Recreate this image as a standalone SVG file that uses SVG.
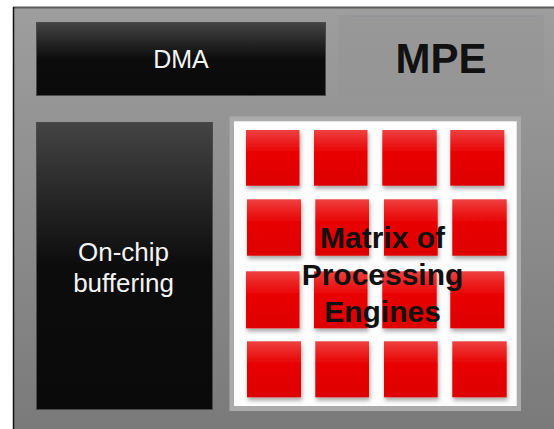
<svg xmlns="http://www.w3.org/2000/svg" width="554" height="429" viewBox="0 0 554 429">
  <defs>
    <linearGradient id="bg" x1="0" y1="0" x2="0" y2="1">
      <stop offset="0" stop-color="#9e9e9e"/>
      <stop offset="1" stop-color="#7a7a7a"/>
    </linearGradient>
    <linearGradient id="dark" x1="0" y1="0" x2="0" y2="1">
      <stop offset="0" stop-color="#444444"/>
      <stop offset="0.5" stop-color="#0c0c0c"/>
      <stop offset="1" stop-color="#0a0a0a"/>
    </linearGradient>
    <linearGradient id="red" x1="0" y1="0" x2="0" y2="1">
      <stop offset="0" stop-color="#ef4040"/>
      <stop offset="0.42" stop-color="#e80000"/>
      <stop offset="1" stop-color="#dd0000"/>
    </linearGradient>
    <filter id="shadow" x="-20%" y="-20%" width="140%" height="150%">
      <feDropShadow dx="1" dy="3" stdDeviation="2" flood-color="#000" flood-opacity="0.35"/>
    </filter>
    <style>
      .dark { fill: url(#dark); stroke: #4a4a4a; stroke-width: 1; }
      .pe { fill: url(#red); filter: url(#shadow); }
      .wt { font-family: "Liberation Sans", Arial, sans-serif; fill: #f4f4f4; text-anchor: middle; }
      .bt { font-family: "Liberation Sans", Arial, sans-serif; fill: #111111; font-weight: bold; text-anchor: middle; }
    </style>
  </defs>

  <!-- chip background -->
  <rect x="13" y="7" width="541" height="422" fill="url(#bg)"/>
  <line x1="13" y1="7.5" x2="554" y2="7.5" stroke="#5a5a5a" stroke-width="2"/>
  <line x1="13.5" y1="7" x2="13.5" y2="429" stroke="#111111" stroke-width="1.5"/>

  <g id="dma">
    <rect class="dark" x="36.5" y="22.5" width="289" height="73"/>
    <text class="wt" x="181" y="68" font-size="25">DMA</text>
  </g>

  <g id="mpe">
    <rect x="338.5" y="15" width="205.5" height="80" fill="#959595" opacity="0.6"/>
    <line x1="352" y1="16" x2="536" y2="16" stroke="#8a9098" stroke-width="1.2"/>
    <text class="bt" x="441" y="73" font-size="42">MPE</text>
  </g>

  <g id="buffer">
    <rect class="dark" x="36.5" y="122.5" width="176" height="287"/>
    <text class="wt" x="123.5" y="261" font-size="26">On-chip</text>
    <text class="wt" x="123.5" y="291.5" font-size="26">buffering</text>
  </g>

  <g id="matrix">
    <rect x="229.5" y="116.5" width="291.5" height="294.5" fill="#ababab"/>
    <rect x="234" y="121.3" width="282.7" height="284.7" fill="#fdfdfd"/>
    <!-- row 1 -->
    <rect class="pe" x="246" y="130" width="53.5" height="55.7"/>
    <rect class="pe" x="314" y="130" width="53.5" height="55.7"/>
    <rect class="pe" x="382.3" y="130" width="54.4" height="55.7"/>
    <rect class="pe" x="450.3" y="130" width="54" height="55.7"/>
    <!-- row 2 -->
    <rect class="pe" x="247" y="199.3" width="54" height="56.4"/>
    <rect class="pe" x="315.3" y="199.3" width="53.7" height="56.4"/>
    <rect class="pe" x="384" y="199.3" width="53.7" height="56.4"/>
    <rect class="pe" x="452.3" y="199.3" width="54.4" height="56.4"/>
    <!-- row 3 -->
    <rect class="pe" x="246" y="271.3" width="53.5" height="57"/>
    <rect class="pe" x="314" y="271.3" width="53.5" height="57"/>
    <rect class="pe" x="382.3" y="271.3" width="54.4" height="57"/>
    <rect class="pe" x="450.3" y="271.3" width="54" height="57"/>
    <!-- row 4 -->
    <rect class="pe" x="247" y="341.3" width="54" height="56"/>
    <rect class="pe" x="315.3" y="341.3" width="53.7" height="56"/>
    <rect class="pe" x="384" y="341.3" width="53.7" height="56"/>
    <rect class="pe" x="452.3" y="341.3" width="54.4" height="56"/>
    <text class="bt" x="382.5" y="248" font-size="30">Matrix of</text>
    <text class="bt" x="382.5" y="285" font-size="30">Processing</text>
    <text class="bt" x="382.5" y="322" font-size="30">Engines</text>
  </g>
</svg>
